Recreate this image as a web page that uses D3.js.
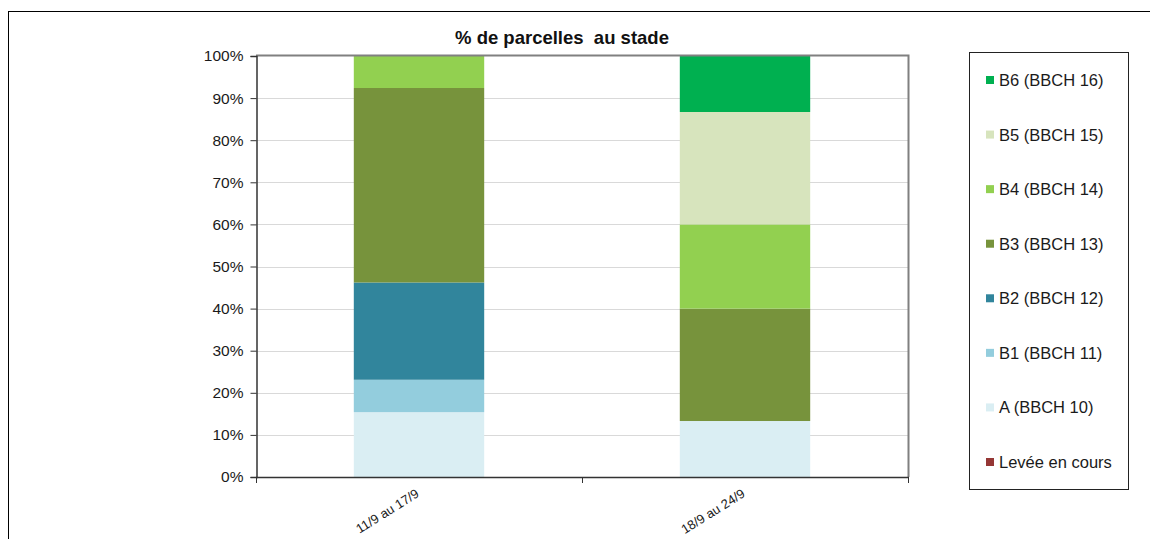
<!DOCTYPE html>
<html>
<head>
<meta charset="utf-8">
<script src="https://cdn.jsdelivr.net/npm/d3@7"></script>
<style>
  body { margin: 0; background: #fff; }
  svg { display: block; font-family: "Liberation Sans", Arial, sans-serif; }
</style>
</head>
<body>
<div id="chart"></div>
<script>
// data
let periods = ["11/9 au 17/9", "18/9 au 24/9"];
let stages = ["Levée en cours", "A (BBCH 10)", "B1 (BBCH 11)", "B2 (BBCH 12)", "B3 (BBCH 13)", "B4 (BBCH 14)", "B5 (BBCH 15)", "B6 (BBCH 16)"];
let stageColors = ["#953735", "#DAEEF3", "#93CDDD", "#31859C", "#77933C", "#92D050", "#D7E4BD", "#00B050"];
// % of plots per stage, same order as stages
let week1 = [0, 15.4, 7.7, 23.1, 46.2, 7.6, 0, 0];
let week2 = [0, 13.3, 0, 0, 26.7, 20, 26.7, 13.3];
let yTicks = [0, 10, 20, 30, 40, 50, 60, 70, 80, 90, 100];

let width = 1150,
    height = 539;

let svg = d3.select("#chart").append("svg")
    .attr("width", width)
    .attr("height", height);

// outer frame
svg.append("rect")
    .attr("x", 8.5).attr("y", 11.5)
    .attr("width", 1160).attr("height", 560)
    .attr("fill", "none")
    .attr("stroke", "#000")
    .attr("stroke-width", 1);

let plot = {left: 256, right: 908, top: 56, bottom: 477};

let x = d3.scaleBand()
    .domain(periods)
    .range([plot.left, plot.right])
    .paddingInner(0.6)
    .paddingOuter(0.3);

let y = d3.scaleLinear()
    .domain([0, 100])
    .range([plot.bottom, plot.top]);

// gridlines
svg.append("g")
    .selectAll("line")
    .data(yTicks.filter(d => d > 0 && d < 100))
  .enter().append("line")
    .attr("x1", plot.left).attr("x2", plot.right)
    .attr("y1", d => Math.round(y(d)) + 0.5)
    .attr("y2", d => Math.round(y(d)) + 0.5)
    .attr("stroke", "#d9d9d9");

// stacked bars
let rows = periods.map((p, i) => {
    let vals = i == 0 ? week1 : week2;
    let r = {period: p};
    stages.forEach((s, j) => r[s] = vals[j]);
    return r;
});
let stack = d3.stack().keys(stages)(rows);

svg.append("g")
    .selectAll("g")
    .data(stack)
  .enter().append("g")
    .attr("fill", (d, i) => stageColors[i])
    .selectAll("rect")
    .data(d => d)
  .enter().append("rect")
    .attr("x", d => x(d.data.period))
    .attr("width", x.bandwidth())
    .attr("y", d => y(d[1]))
    .attr("height", d => y(d[0]) - y(d[1]));

// plot area border (top / right)
svg.append("path")
    .attr("d", "M" + plot.left + "," + (plot.top - 0.5) + "H" + (plot.right + 0.5) + "V" + plot.bottom)
    .attr("fill", "none")
    .attr("stroke", "#808080")
    .attr("stroke-width", 2);

// y axis
let yAxis = svg.append("g")
    .attr("transform", "translate(" + (plot.left + 0.5) + ",0)")
    .call(d3.axisLeft(y).tickValues(yTicks).tickSize(6).tickPadding(7).tickFormat(d => d + "%"));
yAxis.select(".domain").attr("stroke", "#333").attr("stroke-width", 1.5);
yAxis.selectAll(".tick line").attr("stroke", "#333");
yAxis.selectAll("text")
    .attr("font-size", 15.5)
    .attr("fill", "#1a1a1a")
    .style("font-family", "'Liberation Sans', Arial, sans-serif");

// x axis: ticks on category boundaries
svg.append("line")
    .attr("x1", plot.left).attr("x2", plot.right + 1)
    .attr("y1", plot.bottom + 0.5).attr("y2", plot.bottom + 0.5)
    .attr("stroke", "#333")
    .attr("stroke-width", 1.5);

let step = (plot.right - plot.left) / periods.length;
svg.append("g")
    .selectAll("line")
    .data(d3.range(periods.length + 1))
  .enter().append("line")
    .attr("x1", d => plot.left + d * step + 0.5)
    .attr("x2", d => plot.left + d * step + 0.5)
    .attr("y1", plot.bottom)
    .attr("y2", plot.bottom + 6)
    .attr("stroke", "#333");

svg.append("g")
    .selectAll("text")
    .data(periods)
  .enter().append("text")
    .attr("transform", d => "translate(" + (x(d) + x.bandwidth() / 2 + 1) + "," + (plot.bottom + 19) + ") rotate(-32)")
    .attr("text-anchor", "end")
    .attr("font-size", 13)
    .attr("fill", "#1a1a1a")
    .text(d => d);

// title
svg.append("text")
    .attr("x", 562)
    .attr("y", 44)
    .attr("text-anchor", "middle")
    .attr("font-size", 18.5)
    .attr("font-weight", "bold")
    .attr("fill", "#111")
    .attr("xml:space", "preserve")
    .style("white-space", "pre")
    .text("% de parcelles  au stade");

// legend
svg.append("rect")
    .attr("x", 969.5).attr("y", 52.5)
    .attr("width", 159).attr("height", 437)
    .attr("fill", "#fff")
    .attr("stroke", "#222");

let legendOrder = stages.slice().reverse();
let legendY = d3.scalePoint()
    .domain(legendOrder)
    .range([80, 462]);

let legend = svg.append("g")
    .selectAll("g")
    .data(legendOrder)
  .enter().append("g")
    .attr("transform", d => "translate(986," + legendY(d) + ")");

legend.append("rect")
    .attr("x", 0).attr("y", -4)
    .attr("width", 8).attr("height", 8)
    .attr("fill", d => stageColors[stages.indexOf(d)]);

legend.append("text")
    .attr("x", 13)
    .attr("y", 6)
    .attr("font-size", 16.5)
    .attr("fill", "#1a1a1a")
    .text(d => d);
</script>
</body>
</html>
